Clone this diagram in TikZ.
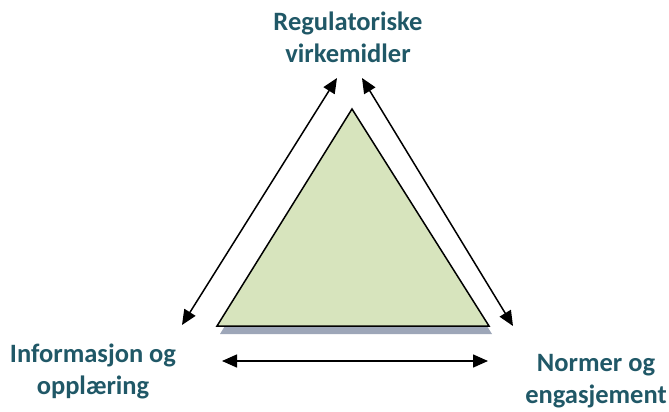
\documentclass[tikz,border=0pt]{standalone}
\usepackage{fontspec}
\setmainfont{Carlito}
\usetikzlibrary{arrows.meta}
\definecolor{labelteal}{HTML}{205867}
\definecolor{trifill}{HTML}{D7E4BD}
\definecolor{trishadow}{HTML}{9DA6B8}
\tikzset{
  lbl/.style={font=\bfseries\fontsize{26.5}{32}\selectfont, text=labelteal, align=center, inner sep=0pt},
  dblarrow/.style={line width=1.5pt, {Triangle[length=15pt,width=13pt]}-{Triangle[length=15pt,width=13pt]}}
}
\begin{document}
\begin{tikzpicture}[x=1pt,y=-1pt]
\useasboundingbox (0,0) rectangle (669,412);
% shadow
\fill[trishadow] (354,116) -- (220,334) -- (492,334) -- cycle;
% triangle
\draw[line width=1.5pt, fill=trifill, line join=miter] (352,109) coordinate (apex) -- (217,326) coordinate (bl) -- (489,326) coordinate (br) -- cycle;
% labels
\node[lbl] (reg) at (348,37) {Regulatoriske\\virkemidler};
\node[lbl] (info) at (93,371) {Informasjon og\\opplæring};
\node[lbl] (norm) at (596,381) {Normer og\\engasjement};
% arrow end points
\coordinate (l1) at (182,325);
\coordinate (l2) at (337,78);
\coordinate (r1) at (362,78);
\coordinate (r2) at (513,326);
\coordinate (b1) at (222,361);
\coordinate (b2) at (488,361);
\draw[dblarrow] (l1) -- (l2);
\draw[dblarrow] (r1) -- (r2);
\draw[dblarrow] (b1) -- (b2);
\end{tikzpicture}
\end{document}
